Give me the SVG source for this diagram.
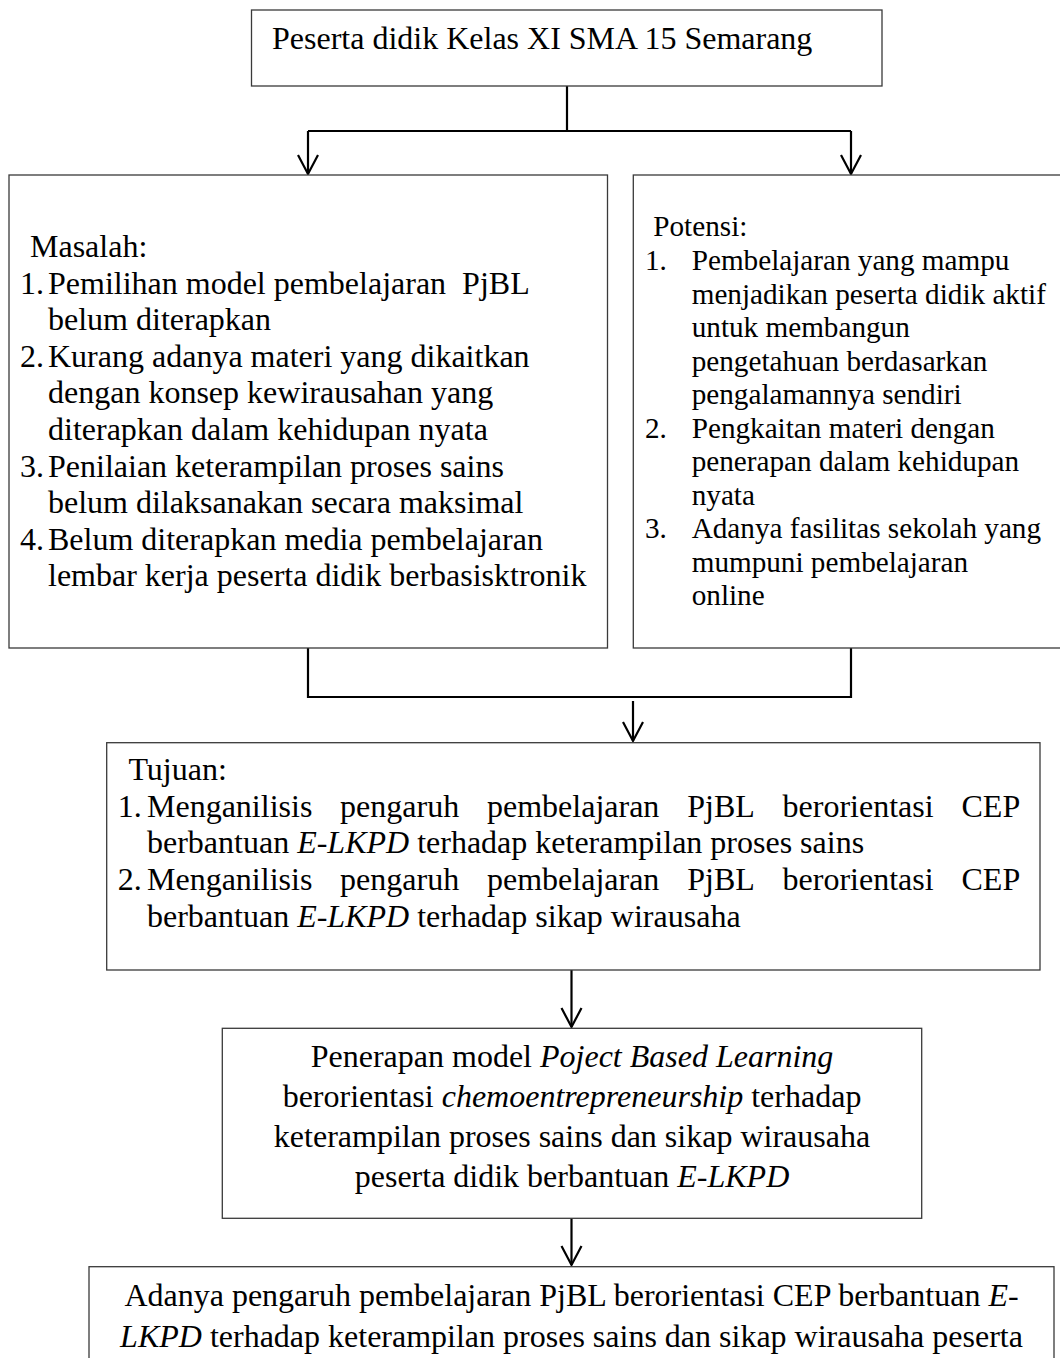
<svg xmlns="http://www.w3.org/2000/svg" width="1060" height="1358" viewBox="0 0 1060 1358">
<style>
.box{fill:#fff;stroke:#3a3a3a;stroke-width:1.3}
.t{font-family:"Liberation Serif","Times New Roman",serif;font-size:32px;fill:#000}
.s{font-size:29.2px}
.i{font-style:italic}
.c{text-anchor:middle}
.ln{fill:none;stroke:#000;stroke-width:2.2}
.ar{fill:none;stroke:#000;stroke-width:2.2;marker-end:url(#v)}
</style>
<defs>
<marker id="v" markerUnits="userSpaceOnUse" refX="0" refY="0" markerWidth="40" markerHeight="40" orient="auto" overflow="visible">
<path d="M-19,-10 L0,0 L-19,10" fill="none" stroke="#000" stroke-width="2.2"/>
</marker>
</defs>
<rect width="1060" height="1358" fill="#fff"/>

<g id="connectors">
<path class="ln" d="M567,86 V131 M308,131 H851" stroke-width="2.6"/>
<path class="ar" d="M308,131 V174"/>
<path class="ar" d="M851,131 V174"/>
<path class="ln" d="M308,648 V697 H851 V648"/>
<path class="ar" d="M633,701 V741"/>
<path class="ar" d="M571.5,970 V1027"/>
<path class="ar" d="M571.5,1218 V1265"/>
</g>

<g id="node-peserta">
<rect class="box" x="251.5" y="10" width="630.5" height="76"/>
<text class="t" x="272" y="49.3">Peserta didik Kelas XI SMA 15 Semarang</text>
</g>

<g id="node-masalah">
<rect class="box" x="9" y="175" width="598.5" height="473"/>
<text class="t" x="30" y="257">Masalah:</text>
<text class="t" x="20" y="293.6">1.</text>
<text class="t" x="48" y="293.6">Pemilihan model pembelajaran&#160; PjBL</text>
<text class="t" x="48" y="330.2">belum diterapkan</text>
<text class="t" x="20" y="366.8">2.</text>
<text class="t" x="48" y="366.8">Kurang adanya materi yang dikaitkan</text>
<text class="t" x="48" y="403.4">dengan konsep kewirausahan yang</text>
<text class="t" x="48" y="440">diterapkan dalam kehidupan nyata</text>
<text class="t" x="20" y="476.6">3.</text>
<text class="t" x="48" y="476.6">Penilaian keterampilan proses sains</text>
<text class="t" x="48" y="513.2">belum dilaksanakan secara maksimal</text>
<text class="t" x="20" y="549.8">4.</text>
<text class="t" x="48" y="549.8">Belum diterapkan media pembelajaran</text>
<text class="t" x="48" y="586.4">lembar kerja peserta didik berbasisktronik</text>
</g>

<g id="node-potensi">
<rect class="box" x="633.3" y="175" width="440" height="473"/>
<text class="t s" x="653.3" y="235.7">Potensi:</text>
<text class="t s" x="645" y="270">1.</text>
<text class="t s" x="691.7" y="270">Pembelajaran yang mampu</text>
<text class="t s" x="691.7" y="303.5">menjadikan peserta didik aktif</text>
<text class="t s" x="691.7" y="337">untuk membangun</text>
<text class="t s" x="691.7" y="370.5">pengetahuan berdasarkan</text>
<text class="t s" x="691.7" y="404">pengalamannya sendiri</text>
<text class="t s" x="645" y="437.5">2.</text>
<text class="t s" x="691.7" y="437.5">Pengkaitan materi dengan</text>
<text class="t s" x="691.7" y="471">penerapan dalam kehidupan</text>
<text class="t s" x="691.7" y="504.5">nyata</text>
<text class="t s" x="645" y="538">3.</text>
<text class="t s" x="691.7" y="538">Adanya fasilitas sekolah yang</text>
<text class="t s" x="691.7" y="571.5">mumpuni pembelajaran</text>
<text class="t s" x="691.7" y="605">online</text>
</g>

<g id="node-tujuan">
<rect class="box" x="106.7" y="742.7" width="933.3" height="227.3"/>
<text class="t" x="128.4" y="780">Tujuan:</text>
<text class="t" x="117.8" y="816.7">1.</text>
<text class="t" y="816.7"><tspan x="147">Menganilisis</tspan><tspan x="340.1">pengaruh</tspan><tspan x="487">pembelajaran</tspan><tspan x="687.2">PjBL</tspan><tspan x="782.6">berorientasi</tspan><tspan x="961.5">CEP</tspan></text>
<text class="t" x="147" y="853.3">berbantuan <tspan class="i">E-LKPD</tspan> terhadap keterampilan proses sains</text>
<text class="t" x="117.8" y="890">2.</text>
<text class="t" y="890"><tspan x="147">Menganilisis</tspan><tspan x="340.1">pengaruh</tspan><tspan x="487">pembelajaran</tspan><tspan x="687.2">PjBL</tspan><tspan x="782.6">berorientasi</tspan><tspan x="961.5">CEP</tspan></text>
<text class="t" x="147" y="926.7">berbantuan <tspan class="i">E-LKPD</tspan> terhadap sikap wirausaha</text>
</g>

<g id="node-penerapan">
<rect class="box" x="222.3" y="1028.3" width="699.4" height="190"/>
<text class="t c" x="572" y="1067">Penerapan model <tspan class="i">Poject Based Learning</tspan></text>
<text class="t c" x="572" y="1107">berorientasi <tspan class="i">chemoentrepreneurship</tspan> terhadap</text>
<text class="t c" x="572" y="1147">keterampilan proses sains dan sikap wirausaha</text>
<text class="t c" x="572" y="1187">peserta didik berbantuan <tspan class="i">E-LKPD</tspan></text>
</g>

<g id="node-hasil">
<rect class="box" x="89" y="1266.7" width="965" height="120"/>
<text class="t c" x="571.5" y="1306">Adanya pengaruh pembelajaran PjBL berorientasi CEP berbantuan <tspan class="i">E-</tspan></text>
<text class="t c" x="571.5" y="1346.7"><tspan class="i">LKPD</tspan> terhadap keterampilan proses sains dan sikap wirausaha peserta</text>
</g>
</svg>
